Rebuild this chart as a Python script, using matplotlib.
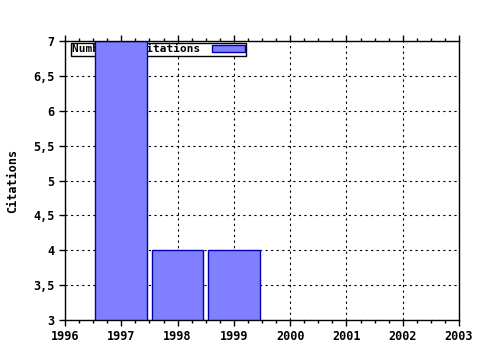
import matplotlib
matplotlib.use("Agg")
import matplotlib.pyplot as plt
from matplotlib.ticker import MultipleLocator, FuncFormatter

# data
years = [1997, 1998, 1999]
citations = [7, 4, 4]
series_label = "Number of citations"

plt.rcParams['font.family'] = 'DejaVu Sans Mono'
plt.rcParams['font.weight'] = 'bold'

fig = plt.figure(figsize=(4.8, 3.5), dpi=100)
ax = fig.add_axes([65 / 480, 30 / 350, 394 / 480, 279 / 350])

ax.bar(years, citations, width=0.92, color="#8080ff", edgecolor="#0000b0",
       linewidth=1, zorder=2, label=series_label)

ax.set_xlim(1996, 2003)
ax.set_ylim(3, 7)

ax.xaxis.set_major_locator(MultipleLocator(1))
ax.xaxis.set_minor_locator(MultipleLocator(0.25))
ax.yaxis.set_major_locator(MultipleLocator(0.5))
ax.yaxis.set_major_formatter(FuncFormatter(lambda v, p: f"{v:g}".replace(".", ",")))
ax.xaxis.set_major_formatter(FuncFormatter(lambda v, p: f"{int(round(v))}"))

ax.tick_params(axis="x", which="both", direction="out", top=True, bottom=True,
               length=4, width=1, labelsize=8.5)
ax.tick_params(axis="x", which="minor", length=2)
ax.tick_params(axis="y", which="both", direction="out", left=True, right=False,
               length=4, width=1, labelsize=8.5)

for sp in ax.spines.values():
    sp.set_linewidth(1)
    sp.set_zorder(3)

ax.grid(True, which="major", color="black", linestyle=(0, (2, 3)), linewidth=0.8, zorder=0.5)
ax.set_axisbelow(True)

ax.set_ylabel("Citations", fontsize=8.5, fontweight="bold")
ax.yaxis.set_label_coords(-46 / 394, 0.5)

leg = ax.legend(loc="upper left", bbox_to_anchor=(71 / 480, 1 - 43 / 350),
                bbox_transform=fig.transFigure, markerfirst=False, fancybox=False,
                framealpha=1, edgecolor="black", fontsize=8, borderpad=0.12,
                handlelength=3, handleheight=0.6, handletextpad=1.0,
                borderaxespad=0)
leg.get_frame().set_linewidth(1)
leg.set_zorder(1)

fig.savefig("out.png", dpi=100)
